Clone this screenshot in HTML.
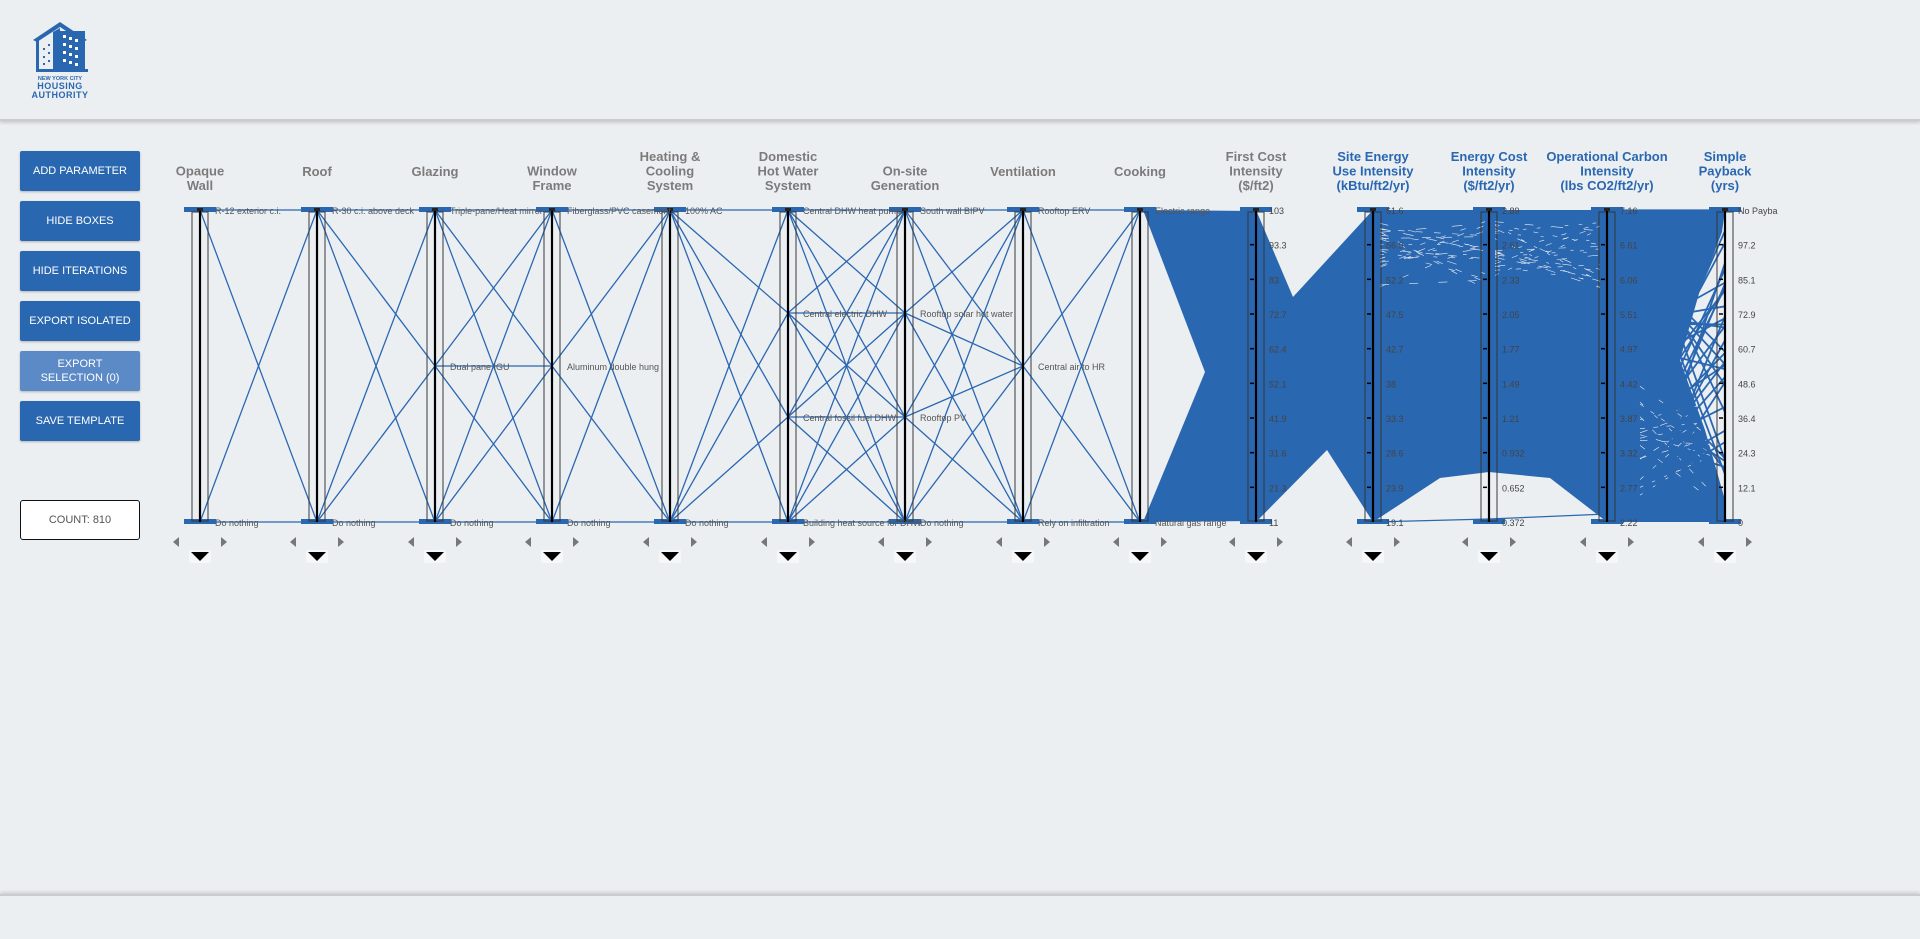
<!DOCTYPE html>
<html><head><meta charset="utf-8"><style>
html,body{margin:0;padding:0;width:1920px;height:937px;overflow:hidden;background:#eceff2;font-family:"Liberation Sans",sans-serif}
.hdr{position:absolute;left:0;top:0;width:1920px;height:119px;background:#eceff2;border-bottom:2px solid #c9cbcf;box-shadow:0 2px 3px rgba(0,0,0,.15)}
.ftr{position:absolute;left:0;top:894px;width:1920px;height:43px;border-top:2px solid #c9cbcf;box-shadow:0 -2px 3px rgba(0,0,0,.12)}
.btn{position:absolute;left:20px;width:120px;height:40px;background:#2a67b1;color:#fff;font-size:11px;display:flex;align-items:center;justify-content:center;text-align:center;border-radius:2px;box-shadow:0 1px 2px rgba(0,0,0,.25);line-height:14px}
.cnt{position:absolute;left:20px;top:500px;width:118px;height:38px;background:#fff;border:1px solid #111;border-radius:3px;font-size:11px;color:#555;display:flex;align-items:center;justify-content:center}
svg{position:absolute;left:0;top:0}
</style></head><body>
<div class="hdr"></div>
<div class="ftr"></div>
<svg width="120" height="110" style="left:0;top:0">
<g fill="#2a67b1">
<polygon points="60,22 33,40 37,42 60,27 83,42 87,40"/>
<rect x="36" y="40" width="3" height="32"/>
<rect x="36" y="69" width="52" height="3"/>
<polygon points="53,32 60,28 60,69 53,69"/>
<rect x="60" y="31" width="25" height="38"/>
<rect x="82" y="40" width="3" height="32"/>
</g>
<g fill="#fff">
<rect x="63" y="35" width="3" height="3"/><rect x="69" y="37" width="3" height="3"/><rect x="75" y="39" width="3" height="3"/>
<rect x="63" y="43" width="3" height="3"/><rect x="69" y="45" width="3" height="3"/><rect x="75" y="47" width="3" height="3"/>
<rect x="63" y="51" width="3" height="3"/><rect x="69" y="53" width="3" height="3"/><rect x="75" y="55" width="3" height="3"/>
<rect x="63" y="59" width="3" height="3"/><rect x="69" y="61" width="3" height="3"/><rect x="75" y="63" width="3" height="3"/>
</g>
<g fill="#2a67b1"><rect x="43" y="48" width="2" height="2"/><rect x="48" y="44" width="2" height="2"/><rect x="43" y="56" width="2" height="2"/><rect x="48" y="52" width="2" height="2"/><rect x="43" y="63" width="2" height="2"/><rect x="48" y="60" width="2" height="2"/></g>
<text x="60" y="80" font-size="5.5" font-weight="bold" fill="#2a67b1" text-anchor="middle">NEW YORK CITY</text>
<text x="60" y="89" font-size="9" font-weight="bold" fill="#2a67b1" text-anchor="middle" letter-spacing=".5">HOUSING</text>
<text x="60" y="98" font-size="9" font-weight="bold" fill="#2a67b1" text-anchor="middle" letter-spacing=".5">AUTHORITY</text>
</svg>
<div class="btn" style="top:151px">ADD PARAMETER</div>
<div class="btn" style="top:201px">HIDE BOXES</div>
<div class="btn" style="top:251px">HIDE ITERATIONS</div>
<div class="btn" style="top:301px">EXPORT ISOLATED</div>
<div class="btn" style="top:351px;background:#5b8ac6">EXPORT<br>SELECTION (0)</div>
<div class="btn" style="top:401px">SAVE TEMPLATE</div>
<div class="cnt">COUNT: 810</div>
<svg id="ch" width="1920" height="937" xmlns="http://www.w3.org/2000/svg">
<g id="fills" fill="#2a67b1" stroke="none">
<polygon points="1143,210 1256,211 1256,521 1143,522 1205,372"/>
<polygon points="1256,210 1293,297 1373,210 1373,522 1327,450 1256,522"/>
<polygon points="1373,210 1489,210 1489,472 1440,478 1373,522"/>
<polygon points="1489,210 1607,210 1607,522 1550,478 1489,472"/>
<polygon points="1607,210 1725,210 1722,232 1700,290 1680,360 1705,430 1725,500 1725,522 1607,522"/>
</g>
<g id="lines" stroke="#2a67b1" stroke-width="1.3" fill="none"></g>
<g id="axes"></g>
<g id="txt" font-family="Liberation Sans, sans-serif"></g>
</svg>
<script>
var NS="http://www.w3.org/2000/svg";
function el(p,t,a,tx){var e=document.createElementNS(NS,t);for(var k in a)e.setAttribute(k,a[k]);if(tx!==undefined)e.textContent=tx;p.appendChild(e);return e;}
var X=[];for(var i=0;i<14;i++)X.push(Math.round(199.5+117.6*i));
X[9]=1256;X[10]=1373;X[11]=1489;X[12]=1607;X[13]=1725;
var T=210,B=522;
var cats=[
[[T,"R-12 exterior c.i."],[B,"Do nothing"]],
[[T,"R-30 c.i. above deck"],[B,"Do nothing"]],
[[T,"Triple-pane/Heat mirror"],[366,"Dual pane IGU"],[B,"Do nothing"]],
[[T,"Fiberglass/PVC casement"],[366,"Aluminum double hung"],[B,"Do nothing"]],
[[T,"100% AC"],[B,"Do nothing"]],
[[T,"Central DHW heat pump"],[313,"Central electric DHW"],[417,"Central fossil fuel DHW"],[B,"Building heat source for DHW"]],
[[T,"South wall BIPV"],[313,"Rooftop solar hot water"],[417,"Rooftop PV"],[B,"Do nothing"]],
[[T,"Rooftop ERV"],[366,"Central air to HR"],[B,"Rely on infiltration"]],
[[T,"Electric range"],[B,"Natural gas range"]]];
var nums=[
["103","93.3","83","72.7","62.4","52.1","41.9","31.6","21.3","11"],
["61.6","56.9","52.2","47.5","42.7","38","33.3","28.6","23.9","19.1"],
["2.89","2.61","2.33","2.05","1.77","1.49","1.21","0.932","0.652","0.372"],
["7.16","6.61","6.06","5.51","4.97","4.42","3.87","3.32","2.77","2.22"],
["No Payba","97.2","85.1","72.9","60.7","48.6","36.4","24.3","12.1","0"]];
var titles=[["Opaque","Wall"],["Roof"],["Glazing"],["Window","Frame"],["Heating &","Cooling","System"],["Domestic","Hot Water","System"],["On-site","Generation"],["Ventilation"],["Cooking"],["First Cost","Intensity","($/ft2)"],["Site Energy","Use Intensity","(kBtu/ft2/yr)"],["Energy Cost","Intensity","($/ft2/yr)"],["Operational Carbon","Intensity","(lbs CO2/ft2/yr)"],["Simple","Payback","(yrs)"]];
var L=document.getElementById("lines"),A=document.getElementById("axes"),TX=document.getElementById("txt");
for(var i=0;i<8;i++){var a=cats[i],b=cats[i+1];for(var p=0;p<a.length;p++)for(var q=0;q<b.length;q++)el(L,"line",{x1:X[i],y1:a[p][0],x2:X[i+1],y2:b[q][0]});}
var s=7;function r(){s=(s*9301+49297)%233280;return s/233280;}
var bg="#eceff2";
for(var k=0;k<22;k++){var y1=220+r()*70,y2=220+r()*70;el(L,"line",{x1:1380,y1:y1,x2:1485,y2:y2,stroke:bg,"stroke-width":0.6,"stroke-dasharray":(3+r()*8)+" "+(10+r()*16)});}
for(var k=0;k<22;k++){var y1=220+r()*70,y2=220+r()*70;el(L,"line",{x1:1495,y1:y1,x2:1600,y2:y2,stroke:bg,"stroke-width":0.6,"stroke-dasharray":(3+r()*8)+" "+(10+r()*16)});}
for(var k=0;k<16;k++){var y1=380+r()*120,y2=400+r()*100;el(L,"line",{x1:1640,y1:y1,x2:1710,y2:y2,stroke:bg,"stroke-width":0.6,"stroke-dasharray":(3+r()*5)+" "+(8+r()*10)});}
for(var k=0;k<35;k++){var y1=300+r()*170,y2=230+r()*250;el(L,"line",{x1:1665+r()*20,y1:y1,x2:1725,y2:y2,"stroke-width":1.8});}
el(L,"line",{x1:1373,y1:B,x2:1489,y2:B-3});el(L,"line",{x1:1489,y1:B-3,x2:1607,y2:B-8});
el(L,"line",{x1:1607,y1:T,x2:1725,y2:T});
for(var i=0;i<14;i++){var x=X[i];
 el(A,"rect",{x:x-16,y:T-3,width:32,height:5,fill:"#2a67b1"});
 el(A,"rect",{x:x-16,y:B-3,width:32,height:5,fill:"#2a67b1"});
 el(A,"rect",{x:x-8,y:T+2,width:16,height:B-T-3,fill:"none",stroke:"#333","stroke-width":1.2,"stroke-opacity":.8});
 el(A,"line",{x1:x,y1:T,x2:x,y2:B,stroke:"#000","stroke-width":2.2});
 el(A,"rect",{x:x-3,y:T-2,width:6,height:3,fill:"#222"});
 if(i<9){cats[i].forEach(function(c){
   el(TX,"text",{x:x+15,y:c[0]+4,"font-size":9,fill:"#555"},c[1]);
 });}else{nums[i-9].forEach(function(v,j){var y=T+j*(B-T)/9;
   if(j>0&&j<9)el(A,"line",{x1:x-6,y1:y,x2:x-2,y2:y,stroke:"#000","stroke-width":1.5});
   el(TX,"text",{x:x+13,y:y+4,"font-size":9,fill:"#444"},v);});}
 var tl=titles[i],n=tl.length,col=(i>=10)?"#2a67b1":"#7b7b7b";
 tl.forEach(function(t,j){var y=(n==1)?176:190-(n-1-j)*14.5;
  el(TX,"text",{x:x,y:y,"font-size":13,"font-weight":"bold",fill:col,"text-anchor":"middle"},t);});
 el(A,"polygon",{points:(x-27)+",542 "+(x-21)+",537 "+(x-21)+",547",fill:"#777"});
 el(A,"polygon",{points:(x+27)+",542 "+(x+21)+",537 "+(x+21)+",547",fill:"#777"});
 el(A,"rect",{x:x-11,y:550,width:22,height:13,fill:"#f6f7f8",rx:2});
 el(A,"polygon",{points:(x-9)+",552 "+(x+9)+",552 "+x+",561",fill:"#000"});
}
</script>
</body></html>
